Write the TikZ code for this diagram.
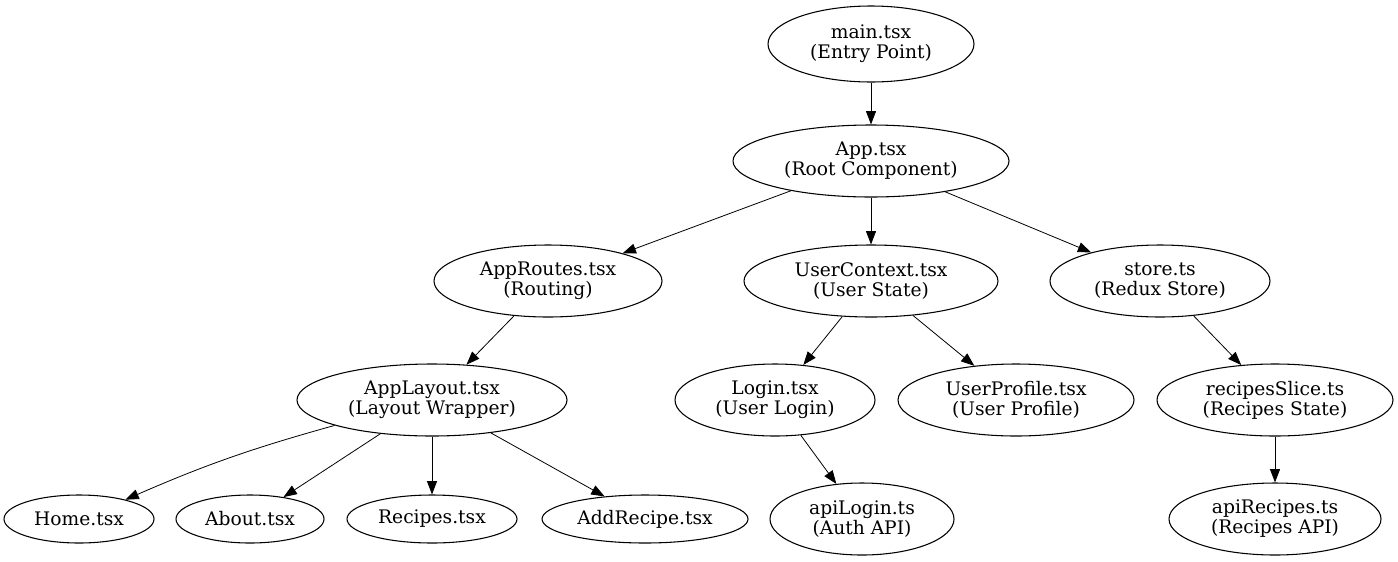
\documentclass[tikz,border=0pt]{standalone}
\usepackage{fontspec}
\setmainfont{DejaVu Serif}
\usetikzlibrary{shapes.geometric,arrows.meta}

\tikzset{
  module/.style={ellipse, draw, thick, inner sep=0pt, align=center,
    font=\fontsize{14}{15}\selectfont, minimum height=54pt},
  leaf/.style={module, minimum height=36pt},
  dep/.style={-{Triangle[length=10pt, width=7.5pt]}, semithick}
}

\begin{document}
\begin{tikzpicture}[x=0.75pt, y=-0.75pt]
    \useasboundingbox (0,0) rectangle (1398,561);

    % top of the tree
    \node[module, minimum width=154.5pt, minimum height=57pt] (main) at (871,44) {main.tsx\\(Entry Point)};
    \node[module, minimum width=207pt] (app) at (871,161) {App.tsx\\(Root Component)};

    % second level
    \node[module, minimum width=171pt] (routes) at (548,281) {AppRoutes.tsx\\(Routing)};
    \node[module, minimum width=190.5pt] (userctx) at (871,281) {UserContext.tsx\\(User State)};
    \node[module, minimum width=165pt] (store) at (1160,281) {store.ts\\(Redux Store)};

    % third level
    \node[module, minimum width=202.5pt] (layout) at (432,400) {AppLayout.tsx\\(Layout Wrapper)};
    \node[module, minimum width=150pt] (login) at (775,400) {Login.tsx\\(User Login)};
    \node[module, minimum width=177pt] (profile) at (1016,400) {UserProfile.tsx\\(User Profile)};
    \node[module, minimum width=177pt] (slice) at (1275,400) {recipesSlice.ts\\(Recipes State)};

    % leaves
    \node[leaf, minimum width=112.5pt] (home) at (79,519) {Home.tsx};
    \node[leaf, minimum width=111pt] (about) at (250,519) {About.tsx};
    \node[leaf, minimum width=127.5pt] (recipes) at (432,519) {Recipes.tsx};
    \node[leaf, minimum width=154.5pt] (addrecipe) at (645,519) {AddRecipe.tsx};
    \node[module, minimum width=138pt] (apilogin) at (862,519) {apiLogin.ts\\(Auth API)};
    \node[module, minimum width=159pt] (apirecipes) at (1275,519) {apiRecipes.ts\\(Recipes API)};

    % imports
    \draw[dep] (main) -- (app);
    \draw[dep] (app) -- (routes);
    \draw[dep] (app) -- (userctx);
    \draw[dep] (app) -- (store);
    \draw[dep] (routes) -- (layout);
    \draw[dep] (userctx) -- (login);
    \draw[dep] (userctx) -- (profile);
    \draw[dep] (store) -- (slice);
    \draw[dep] (layout) to[bend right=4] (home);
    \draw[dep] (layout) -- (about);
    \draw[dep] (layout) -- (recipes);
    \draw[dep] (layout) -- (addrecipe);
    \draw[dep] (login) -- (apilogin);
    \draw[dep] (slice) -- (apirecipes);
\end{tikzpicture}
\end{document}
